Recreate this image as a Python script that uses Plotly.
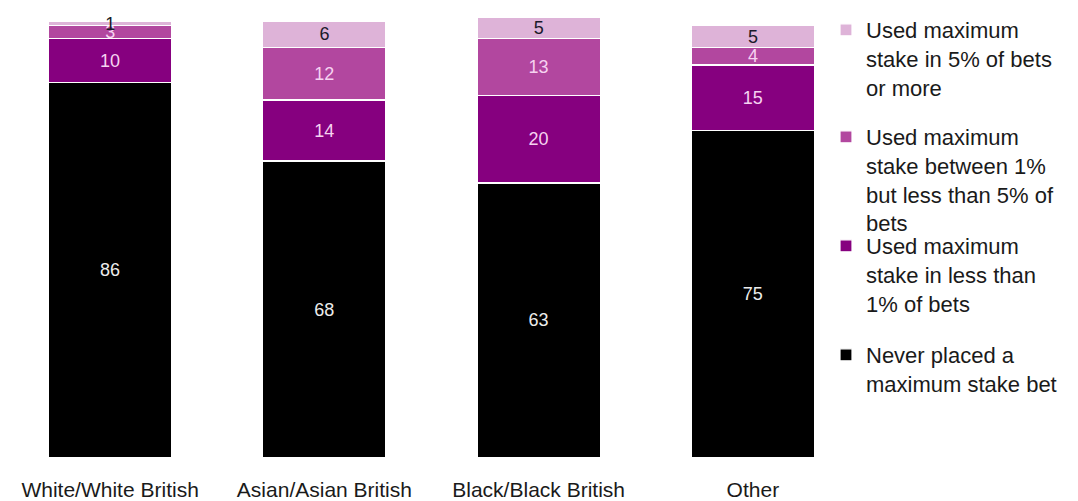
import plotly.graph_objects as go

# Ethnic groups along the x axis
groups = ["White/White British", "Asian/Asian British", "Black/Black British", "Other"]

# Share of customers (%) by how often they used the maximum stake
never_max = [86, 68, 63, 75]
under_1pct = [10, 14, 20, 15]
between_1_5pct = [3, 12, 13, 4]
over_5pct = [1, 6, 5, 5]

series = [
    # (name, values, colour, label colour, legend id)
    ("Never placed a<br>maximum stake bet", never_max, "#000000", "#ececec", "legend4"),
    ("Used maximum<br>stake in less than<br>1% of bets", under_1pct, "#86007f", "#f6d2f1", "legend3"),
    ("Used maximum<br>stake between 1%<br>but less than 5% of<br>bets", between_1_5pct, "#b2479f", "#f6d2f1", "legend2"),
    ("Used maximum<br>stake in 5% of bets<br>or more", over_5pct, "#deb3d8", "#1a1a2a", "legend"),
]

FONT = "Liberation Sans, Arial, sans-serif"

fig = go.Figure()
for name, vals, colour, txt_colour, leg in series:
    fig.add_trace(go.Bar(
        x=groups,
        y=vals,
        name=name,
        legend=leg,
        showlegend=True,
        marker=dict(color=colour, line=dict(color="white", width=1.2)),
        text=[str(v) for v in vals],
        textposition="inside",
        insidetextanchor="middle",
        textangle=0,
        textfont=dict(family=FONT, size=18, color=txt_colour),
        width=0.575,
        hoverinfo="skip",
    ))

# Each legend entry sits in its own legend box so the entries are evenly spaced
legend_tops = {"legend": 9, "legend2": 116, "legend3": 225, "legend4": 334}
legend_layout = {}
for key, top in legend_tops.items():
    legend_layout[key] = dict(
        xref="container", yref="container",
        x=826 / 1078, y=1 - top / 501,
        xanchor="left", yanchor="top",
        font=dict(family=FONT, size=22, color="#1a1a1a"),
        valign="top",
        bgcolor="rgba(0,0,0,0)",
        itemclick=False, itemdoubleclick=False,
        visible=True,
    )

fig.update_layout(
    barmode="stack",
    width=1078, height=501,
    margin=dict(l=3, r=218, t=17, b=43, autoexpand=False),
    showlegend=True,
    paper_bgcolor="white",
    plot_bgcolor="white",
    uniformtext=dict(minsize=18, mode="show"),
    **legend_layout,
)
fig.update_xaxes(
    showgrid=False, showline=False, zeroline=False,
    ticks="", ticklabelstandoff=17,
    tickfont=dict(family=FONT, size=21, color="#1a1a1a"),
    automargin=False,
)
fig.update_yaxes(
    range=[0, 101], visible=False, automargin=False,
)

fig.write_html("out.html")
